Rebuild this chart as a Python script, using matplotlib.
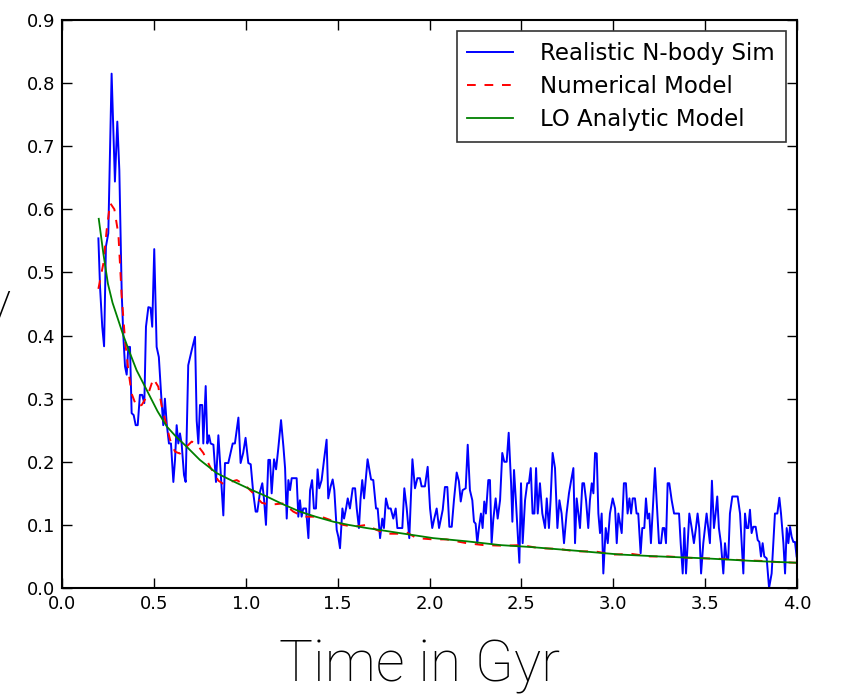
import matplotlib
matplotlib.use("Agg")
import matplotlib.pyplot as plt

# ---------------- data ----------------
sim_t = [0.198, 0.207, 0.219, 0.229, 0.239, 0.252, 0.270, 0.288, 0.301, 0.312,
         0.325, 0.334, 0.343, 0.352, 0.361, 0.370, 0.379, 0.390, 0.401, 0.412,
         0.424, 0.436, 0.448, 0.457, 0.470, 0.482, 0.491, 0.502, 0.515, 0.527,
         0.539, 0.551, 0.560, 0.570, 0.582, 0.593, 0.606, 0.615, 0.624, 0.633,
         0.642, 0.651, 0.664, 0.673, 0.687, 0.706, 0.724, 0.733, 0.742, 0.751,
         0.763, 0.769, 0.782, 0.791, 0.800, 0.809, 0.824, 0.838, 0.851, 0.878,
         0.887, 0.905, 0.929, 0.941, 0.960, 0.972, 0.986, 0.999, 1.014, 1.027,
         1.041, 1.054, 1.063, 1.078, 1.090, 1.100, 1.110,
         1.123, 1.132, 1.141, 1.154, 1.165, 1.177, 1.192, 1.205, 1.214, 1.223,
         1.232, 1.241, 1.250, 1.264, 1.277, 1.286, 1.295, 1.304, 1.313, 1.328,
         1.341, 1.350, 1.361, 1.371, 1.382, 1.391, 1.400, 1.413, 1.426, 1.440,
         1.449, 1.462, 1.473, 1.482, 1.495, 1.504, 1.513, 1.526, 1.535, 1.546,
         1.555, 1.567, 1.582, 1.595, 1.604, 1.616, 1.625, 1.634, 1.644, 1.653,
         1.663, 1.673, 1.682, 1.694, 1.709, 1.718, 1.731, 1.743, 1.752, 1.763,
         1.776, 1.789, 1.803, 1.816, 1.825, 1.839, 1.852, 1.863, 1.876, 1.890,
         1.907, 1.921, 1.934, 1.948, 1.957, 1.975, 1.990, 2.003, 2.015, 2.026,
         2.039, 2.052,
         2.072, 2.084, 2.097, 2.108, 2.121, 2.133, 2.148, 2.160, 2.170, 2.180,
         2.197, 2.208, 2.220, 2.233, 2.242, 2.251, 2.260, 2.269, 2.280, 2.289,
         2.298, 2.307, 2.320, 2.329, 2.338, 2.347, 2.360, 2.371, 2.384, 2.396,
         2.407, 2.420, 2.431, 2.444, 2.451, 2.460, 2.471, 2.480, 2.489, 2.498,
         2.507, 2.520, 2.532, 2.541, 2.551, 2.561, 2.571, 2.580, 2.589, 2.601,
         2.614, 2.629, 2.638, 2.650, 2.659, 2.670, 2.683, 2.696, 2.707, 2.719,
         2.732, 2.746, 2.759, 2.770, 2.783, 2.792, 2.801, 2.810, 2.819, 2.832,
         2.841, 2.852, 2.864, 2.873, 2.883, 2.892, 2.901, 2.910, 2.919, 2.928,
         2.937, 2.946, 2.959, 2.970, 2.982, 2.997,
         3.010, 3.019, 3.028, 3.046, 3.058, 3.069, 3.078, 3.088, 3.097, 3.106,
         3.118, 3.127, 3.136, 3.149, 3.158, 3.169, 3.178, 3.187, 3.196, 3.205,
         3.214, 3.227, 3.236, 3.249, 3.260, 3.269, 3.278, 3.287, 3.296, 3.305,
         3.318, 3.331, 3.345, 3.358, 3.367, 3.378, 3.387, 3.396, 3.405, 3.414,
         3.427, 3.439, 3.450, 3.459, 3.468, 3.478, 3.490, 3.499, 3.508, 3.517,
         3.526, 3.537, 3.548, 3.557, 3.566, 3.575, 3.586, 3.599, 3.608, 3.617,
         3.626, 3.635, 3.648, 3.663, 3.677, 3.690, 3.699, 3.708, 3.717, 3.726,
         3.735, 3.744, 3.753, 3.762, 3.775, 3.786, 3.795, 3.804, 3.813, 3.822,
         3.835, 3.848, 3.862, 3.871, 3.880, 3.893, 3.904, 3.913, 3.926, 3.935,
         3.944, 3.953, 3.962, 3.971, 3.980, 3.989, 3.998]
sim_e = [0.554, 0.477, 0.414, 0.383, 0.541, 0.562, 0.815, 0.644, 0.739, 0.662,
         0.467, 0.398, 0.351, 0.338, 0.382, 0.382, 0.277, 0.274, 0.258, 0.258,
         0.306, 0.306, 0.293, 0.414, 0.445, 0.444, 0.414, 0.537, 0.382, 0.366,
         0.309, 0.258, 0.300, 0.260, 0.229, 0.229, 0.168, 0.203, 0.258, 0.229,
         0.245, 0.229, 0.179, 0.168, 0.353, 0.377, 0.398, 0.265, 0.229, 0.290,
         0.290, 0.229, 0.320, 0.229, 0.242, 0.229, 0.227, 0.168, 0.242, 0.115,
         0.198, 0.198, 0.229, 0.229, 0.270, 0.198, 0.214, 0.238, 0.198, 0.196,
         0.150, 0.121, 0.121, 0.153, 0.166, 0.139, 0.100,
         0.203, 0.203, 0.150, 0.204, 0.188, 0.221, 0.266, 0.224, 0.190, 0.110,
         0.171, 0.155, 0.174, 0.174, 0.174, 0.113, 0.139, 0.113, 0.126, 0.126,
         0.079, 0.155, 0.171, 0.126, 0.126, 0.188, 0.158, 0.171, 0.203, 0.235,
         0.142, 0.161, 0.172, 0.155, 0.092, 0.081, 0.063, 0.126, 0.110, 0.126,
         0.142, 0.126, 0.158, 0.158, 0.126, 0.095, 0.142, 0.171, 0.142, 0.171,
         0.204, 0.187, 0.172, 0.171, 0.126, 0.126, 0.079, 0.110, 0.095, 0.142,
         0.126, 0.126, 0.110, 0.126, 0.095, 0.095, 0.095, 0.158, 0.126, 0.079,
         0.204, 0.158, 0.174, 0.174, 0.161, 0.161, 0.192, 0.126, 0.095, 0.110,
         0.126, 0.095,
         0.124, 0.160, 0.160, 0.097, 0.097, 0.139, 0.183, 0.169, 0.137, 0.155,
         0.158, 0.227, 0.155, 0.139, 0.105, 0.102, 0.071, 0.095, 0.118, 0.095,
         0.137, 0.118, 0.171, 0.171, 0.071, 0.108, 0.142, 0.110, 0.139, 0.214,
         0.200, 0.200, 0.246, 0.166, 0.105, 0.187, 0.134, 0.087, 0.040, 0.166,
         0.071, 0.139, 0.166, 0.166, 0.190, 0.118, 0.118, 0.190, 0.118, 0.166,
         0.118, 0.095, 0.142, 0.095, 0.139, 0.214, 0.190, 0.095, 0.139, 0.118,
         0.071, 0.118, 0.150, 0.169, 0.190, 0.071, 0.142, 0.118, 0.095, 0.166,
         0.166, 0.139, 0.095, 0.139, 0.166, 0.150, 0.214, 0.213, 0.118, 0.087,
         0.118, 0.023, 0.095, 0.071, 0.118, 0.142,
         0.126, 0.071, 0.118, 0.087, 0.166, 0.166, 0.118, 0.142, 0.118, 0.142,
         0.142, 0.118, 0.118, 0.055, 0.095, 0.095, 0.142, 0.110, 0.118, 0.071,
         0.118, 0.190, 0.139, 0.071, 0.071, 0.095, 0.095, 0.071, 0.166, 0.166,
         0.139, 0.118, 0.118, 0.118, 0.071, 0.023, 0.095, 0.023, 0.071, 0.118,
         0.095, 0.071, 0.095, 0.118, 0.095, 0.023, 0.071, 0.095, 0.118, 0.095,
         0.071, 0.170, 0.095, 0.118, 0.145, 0.095, 0.071, 0.023, 0.071, 0.047,
         0.047, 0.118, 0.145, 0.145, 0.145, 0.118, 0.071, 0.023, 0.118, 0.095,
         0.095, 0.124, 0.087, 0.097, 0.097, 0.076, 0.073, 0.050, 0.071, 0.050,
         0.047, 0.000, 0.023, 0.071, 0.118, 0.118, 0.143, 0.118, 0.071, 0.023,
         0.095, 0.071, 0.097, 0.081, 0.073, 0.073, 0.050]

num_t = [0.198, 0.225, 0.243, 0.262, 0.285, 0.307, 0.325, 0.343, 0.361, 0.379,
         0.406, 0.434, 0.470, 0.497, 0.524, 0.542, 0.566, 0.588, 0.615, 0.642,
         0.678, 0.706, 0.733, 0.769, 0.806, 0.851, 0.878, 0.915, 0.951, 0.996,
         1.041, 1.087, 1.132, 1.205, 1.259, 1.313, 1.368, 1.420, 1.477, 1.530,
         1.585, 1.658, 1.712, 1.767, 1.839, 1.876, 1.930, 2.021, 2.093, 2.202,
         2.293, 2.400, 2.500, 2.600, 2.700, 2.800, 2.900, 3.000, 3.100, 3.200,
         3.300, 3.400, 3.500, 3.600, 3.700, 3.800, 3.900, 4.000]
num_e = [0.474, 0.514, 0.567, 0.610, 0.600, 0.560, 0.462, 0.393, 0.345, 0.308,
         0.287, 0.290, 0.308, 0.332, 0.319, 0.289, 0.261, 0.235, 0.216, 0.213,
         0.224, 0.232, 0.228, 0.214, 0.192, 0.170, 0.165, 0.168, 0.171, 0.163,
         0.150, 0.135, 0.132, 0.134, 0.121, 0.113, 0.113, 0.112, 0.106, 0.100,
         0.097, 0.100, 0.092, 0.086, 0.086, 0.088, 0.079, 0.077, 0.077, 0.071,
         0.068, 0.067, 0.068, 0.063, 0.062, 0.058, 0.058, 0.053, 0.054, 0.050,
         0.050, 0.048, 0.047, 0.046, 0.044, 0.043, 0.041, 0.040]

lo_t = [0.200, 0.225, 0.250, 0.275, 0.300, 0.334, 0.370, 0.406, 0.457, 0.520,
        0.570, 0.620, 0.678, 0.750, 0.842, 0.932, 1.020, 1.114, 1.200, 1.295,
        1.380, 1.477, 1.560, 1.658, 1.750, 1.839, 2.021, 2.202, 2.384, 2.547,
        2.800, 3.037, 3.250, 3.499, 3.750, 4.000]
lo_e = [0.585, 0.530, 0.482, 0.452, 0.430, 0.400, 0.372, 0.345, 0.316, 0.280,
        0.256, 0.240, 0.224, 0.203, 0.182, 0.169, 0.157, 0.145, 0.133, 0.121,
        0.113, 0.105, 0.100, 0.095, 0.091, 0.087, 0.079, 0.074, 0.068, 0.065,
        0.059, 0.053, 0.050, 0.047, 0.043, 0.040]

labels = ["Realistic N-body Sim", "Numerical Model", "LO Analytic Model"]
xticks = [0.0, 0.5, 1.0, 1.5, 2.0, 2.5, 3.0, 3.5, 4.0]
yticks = [0.0, 0.1, 0.2, 0.3, 0.4, 0.5, 0.6, 0.7, 0.8, 0.9]

# ---------------- figure ----------------
fig = plt.figure(figsize=(8.42, 6.98), dpi=100, facecolor="white")
ax = fig.add_axes([62 / 842, 1 - 588 / 698, (797 - 62) / 842, (588 - 20) / 698])

ax.plot(sim_t, sim_e, color="#0000ff", lw=1.4, label=labels[0])
ax.plot(num_t, num_e, color="#ff0000", lw=1.4, ls=(0, (4.5, 4.5)), label=labels[1])
ax.plot(lo_t, lo_e, color="#008000", lw=1.3, label=labels[2])

ax.set_xlim(0, 4.0)
ax.set_ylim(0, 0.9)
ax.set_xticks(xticks)
ax.set_yticks(yticks)
ax.set_xticklabels([f"{v:.1f}" for v in xticks])
ax.set_yticklabels([f"{v:.1f}" for v in yticks])
ax.tick_params(direction="in", length=7, width=1, top=True, right=True,
               labelsize=13, pad=5)
for s in ax.spines.values():
    s.set_linewidth(1.5)

leg = ax.legend(loc="upper right", fontsize=16.5, frameon=True, fancybox=False,
                edgecolor="black", handlelength=2.0, handletextpad=1.2,
                borderaxespad=0.5, labelspacing=0.45, borderpad=0.45)
leg.get_frame().set_linewidth(1.2)

light = dict(family=["Roboto", "DejaVu Sans"], weight="light")
fig.text(420 / 842, 1 - 682 / 698, "Time in Gyr", ha="center", va="baseline",
         fontsize=41, **light)
fig.text(12 / 842, 1 - 322 / 698, "Eccentricity", ha="right", va="baseline",
         fontsize=41, **light)

fig.savefig("out.png", dpi=100, facecolor="white")
